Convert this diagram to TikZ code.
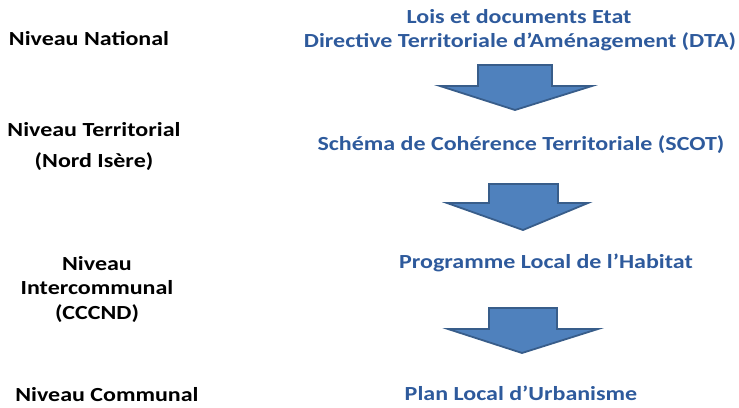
\documentclass[tikz,border=0pt]{standalone}
\usepackage{fontspec}
\setmainfont{Carlito}[FakeStretch=1.2]
\definecolor{headblue}{HTML}{2E5A9C}
\definecolor{arrfill}{HTML}{4F81BD}
\definecolor{arrline}{HTML}{385D8A}
\begin{document}
\begin{tikzpicture}[x=1pt,y=-1pt,
  lvl/.style={font=\fontsize{20}{22}\selectfont\bfseries, text=black, inner sep=0pt, anchor=center},
  doc/.style={font=\fontsize{20}{22}\selectfont\bfseries, text=headblue, inner sep=0pt, anchor=center},
  blockarrow/.style={fill=arrfill, draw=arrline, line width=1.8pt, line join=miter}]
\useasboundingbox (0,0) rectangle (739,407);
% left column
\node[lvl] (nat) at (89,39) {Niveau National};
\node[lvl] (ter) at (94,130) {Niveau Territorial};
\node[lvl] (ter2) at (94,162) {(Nord Isère)};
\node[lvl] (inter1) at (97,264) {Niveau};
\node[lvl] (inter2) at (97,288) {Intercommunal};
\node[lvl] (inter3) at (97,314) {(CCCND)};
\node[lvl] (com) at (107,395) {Niveau Communal};
% right column
\node[doc] (lois) at (519,17) {Lois et documents Etat};
\node[doc] (dta) at (520,42) {Directive Territoriale d’Aménagement (DTA)};
\node[doc] (scot) at (521,145) {Schéma de Cohérence Territoriale (SCOT)};
\node[doc] (plh) at (546,263) {Programme Local de l’Habitat};
\node[doc] (plu) at (521,393) {Plan Local d’Urbanisme};
% block arrows
\draw[blockarrow] (478,65) -- (552,65) -- (552,86) -- (592,86) -- (515,110) -- (440,86) -- (478,86) -- cycle;
\draw[blockarrow] (489,184) -- (558,184) -- (558,203) -- (588,203) -- (523,230) -- (447,203) -- (489,203) -- cycle;
\draw[blockarrow] (489,308) -- (557,308) -- (557,329) -- (598,329) -- (522,353) -- (448,329) -- (489,329) -- cycle;
\end{tikzpicture}
\end{document}
